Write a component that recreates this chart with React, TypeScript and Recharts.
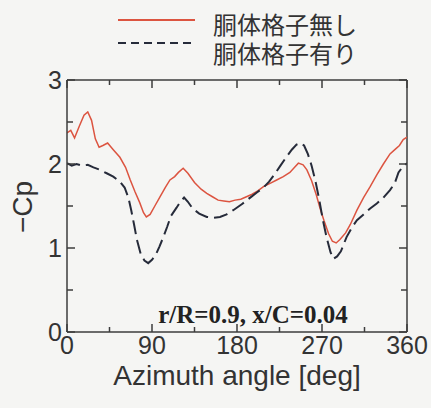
import React from "react";
import {
  LineChart,
  Line,
  XAxis,
  YAxis,
  Legend,
  ReferenceLine,
  ReferenceDot,
} from "recharts";

// ---- data ----
const noGridAngles = [0, 4, 8, 13, 18, 22, 26, 30, 34, 38, 43, 49, 56, 62, 67, 72, 77, 81, 84, 88, 93, 98, 104, 109, 114, 118, 123, 128, 135, 142, 148, 154, 160, 166, 172, 178, 184, 190, 196, 202, 208, 215, 222, 229, 236, 241, 245, 250, 254, 259, 264, 268, 272, 277, 281, 285, 289, 295, 300, 307, 314, 321, 328, 335, 342, 348, 352, 356, 360];
const noGridCp = [2.37, 2.40, 2.31, 2.45, 2.58, 2.62, 2.52, 2.30, 2.20, 2.22, 2.25, 2.17, 2.08, 1.96, 1.81, 1.67, 1.54, 1.42, 1.37, 1.40, 1.50, 1.60, 1.72, 1.81, 1.85, 1.90, 1.95, 1.89, 1.78, 1.70, 1.65, 1.61, 1.57, 1.56, 1.55, 1.57, 1.58, 1.61, 1.64, 1.68, 1.73, 1.77, 1.81, 1.85, 1.90, 1.96, 2.01, 1.99, 1.93, 1.80, 1.63, 1.47, 1.33, 1.17, 1.08, 1.06, 1.10, 1.18, 1.28, 1.45, 1.60, 1.73, 1.87, 2.00, 2.12, 2.18, 2.22, 2.29, 2.32];

const withGridAngles = [0, 5, 10, 16, 22, 28, 35, 42, 49, 56, 61, 65, 68, 71, 74, 78, 82, 86, 90, 94, 98, 102, 106, 110, 116, 120, 124, 128, 133, 140, 148, 155, 162, 169, 176, 185, 194, 201, 208, 214, 220, 226, 232, 238, 243, 247, 251, 255, 259, 263, 267, 271, 275, 279, 282, 286, 290, 296, 302, 307, 314, 321, 328, 335, 342, 347, 351, 355, 360];
const withGridCp = [2.01, 1.98, 2.00, 1.98, 1.99, 1.96, 1.93, 1.89, 1.85, 1.79, 1.72, 1.60, 1.45, 1.28, 1.10, 0.93, 0.85, 0.82, 0.86, 0.92, 1.02, 1.13, 1.25, 1.38, 1.48, 1.55, 1.60, 1.55, 1.47, 1.41, 1.37, 1.36, 1.37, 1.40, 1.45, 1.52, 1.60, 1.66, 1.72, 1.79, 1.88, 1.98, 2.08, 2.17, 2.23, 2.25, 2.22, 2.12, 1.98, 1.80, 1.58, 1.33, 1.12, 0.95, 0.87, 0.90, 0.96, 1.13, 1.25, 1.33, 1.40, 1.47, 1.53, 1.60, 1.69, 1.77, 1.90, 1.96, 2.01];

const seriesNames = ["胴体格子無し", "胴体格子有り"];
const xTicks = [0, 45, 90, 135, 180, 225, 270, 315, 360];
const xLabeled = [0, 90, 180, 270, 360];
const yTicks = [0, 0.5, 1, 1.5, 2, 2.5, 3];
const yLabeled = [0, 1, 2, 3];
const annotation = "r/R=0.9, x/C=0.04";
const xTitle = "Azimuth angle [deg]";
const yTitle = "\u2212Cp";

const noGridData = noGridAngles.map((a, i) => ({ deg: a, cp: noGridCp[i] }));
const withGridData = withGridAngles.map((a, i) => ({ deg: a, cp: withGridCp[i] }));

// ---- layout / style ----
const W = 431;
const H = 408;
const M = { top: 80, right: 24, bottom: 0, left: 0 };
const Y_AXIS_W = 67;
const X_AXIS_H = 76;
const PLOT_W = W - M.left - M.right - Y_AXIS_W;
const PLOT_H = H - M.top - M.bottom - X_AXIS_H;
const AXIS_COLOR = "#3c3c3c";
const TEXT_COLOR = "#333333";
const RED = "#dc5440";
const DARK = "#262b3a";
const SANS = "'Liberation Sans', Arial, sans-serif";
const TICK_FS = 25;

const XTick = (props: any) => {
  const { x, y, payload } = props;
  const major = xLabeled.includes(payload.value);
  const len = major ? 8 : 5;
  return (
    <g>
      <line x1={x} y1={y} x2={x} y2={y - len} stroke={AXIS_COLOR} strokeWidth={1.5} />
      <line x1={x} y1={y - PLOT_H} x2={x} y2={y - PLOT_H + len} stroke={AXIS_COLOR} strokeWidth={1.5} />
      {major && (
        <text x={x} y={y + 13} textAnchor="middle" dominantBaseline="central" fontSize={TICK_FS} fontFamily={SANS} fill={TEXT_COLOR}>
          {payload.value}
        </text>
      )}
    </g>
  );
};

const YTick = (props: any) => {
  const { x, y, payload } = props;
  const major = yLabeled.includes(payload.value);
  const len = major ? 8 : 6;
  return (
    <g>
      <line x1={x} y1={y} x2={x + len} y2={y} stroke={AXIS_COLOR} strokeWidth={1.5} />
      <line x1={x + PLOT_W} y1={y} x2={x + PLOT_W - len} y2={y} stroke={AXIS_COLOR} strokeWidth={1.5} />
      {major && (
        <text x={x - 5} y={y} textAnchor="end" dominantBaseline="central" fontSize={TICK_FS} fontFamily={SANS} fill={TEXT_COLOR}>
          {payload.value}
        </text>
      )}
    </g>
  );
};

const LegendContent = (props: any) => {
  const payload: any[] = props.payload || [];
  const ordered = seriesNames
    .map((n) => payload.find((p: any) => p.value === n))
    .filter(Boolean);
  return (
    <svg width={W} height={70} style={{ display: "block" }}>
      {ordered.map((entry: any, i: number) => {
        const ly = 20 + i * 23;
        const ty = 23 + i * 29;
        return (
          <g key={i}>
            <line
              x1={118}
              x2={195}
              y1={ly}
              y2={ly}
              stroke={entry.color}
              strokeWidth={i === 0 ? 1.8 : 2}
              strokeDasharray={i === 0 ? undefined : "8 5"}
            />
            <text x={213} y={ty} dominantBaseline="central" fontSize={24} fontFamily="'Noto Sans CJK JP', sans-serif" fill={TEXT_COLOR}>
              {entry.value}
            </text>
          </g>
        );
      })}
    </svg>
  );
};

export default function App() {
  return (
    <div style={{ position: "absolute", left: 0, top: 0, width: W, height: H, background: "#f5f5f3" }}>
      <LineChart width={W} height={H} margin={M}>
        <XAxis
          dataKey="deg"
          type="number"
          domain={[0, 360]}
          ticks={xTicks}
          interval={0}
          height={X_AXIS_H}
          tickSize={0}
          tickMargin={0}
          tickLine={false}
          axisLine={{ stroke: AXIS_COLOR, strokeWidth: 1.5 }}
          tick={<XTick />}
          allowDataOverflow
          label={(p: any) => {
            const vb = p.viewBox;
            return (
              <text x={vb.x + vb.width / 2} y={vb.y + 43} textAnchor="middle" dominantBaseline="central" fontSize={28} fontFamily={SANS} fill={TEXT_COLOR}>
                {xTitle}
              </text>
            );
          }}
        />
        <YAxis
          type="number"
          domain={[0, 3]}
          ticks={yTicks}
          interval={0}
          width={Y_AXIS_W}
          tickSize={0}
          tickMargin={0}
          tickLine={false}
          axisLine={{ stroke: AXIS_COLOR, strokeWidth: 1.5 }}
          tick={<YTick />}
          allowDataOverflow
          label={(p: any) => {
            const vb = p.viewBox;
            const cx = 22;
            const cy = vb.y + vb.height / 2 + 1;
            return (
              <text x={cx} y={cy} textAnchor="middle" dominantBaseline="central" fontSize={28} fontFamily={SANS} fill={TEXT_COLOR} transform={`rotate(-90 ${cx} ${cy})`}>
                {yTitle}
              </text>
            );
          }}
        />
        <ReferenceLine y={3} stroke={AXIS_COLOR} strokeWidth={1.5} />
        <ReferenceLine x={360} stroke={AXIS_COLOR} strokeWidth={1.5} />
        <Legend
          layout="horizontal"
          verticalAlign="middle"
          align="center"
          wrapperStyle={{ top: 0, left: 0, width: W, height: 70 }}
          content={<LegendContent />}
        />
        <Line
          data={noGridData}
          dataKey="cp"
          name={seriesNames[0]}
          type="linear"
          stroke={RED}
          strokeWidth={1.5}
          dot={false}
          activeDot={false}
          isAnimationActive={false}
        />
        <Line
          data={withGridData}
          dataKey="cp"
          name={seriesNames[1]}
          type="linear"
          stroke={DARK}
          strokeWidth={2}
          strokeDasharray="14 6"
          dot={false}
          activeDot={false}
          isAnimationActive={false}
        />
        <ReferenceDot
          x={197}
          y={0.21}
          r={0}
          fill="none"
          stroke="none"
          label={{
            value: annotation,
            position: "center",
            fill: "#222",
            fontSize: 25,
            fontWeight: "bold",
            fontFamily: "'Liberation Serif', 'Times New Roman', serif",
          }}
        />
      </LineChart>
    </div>
  );
}
